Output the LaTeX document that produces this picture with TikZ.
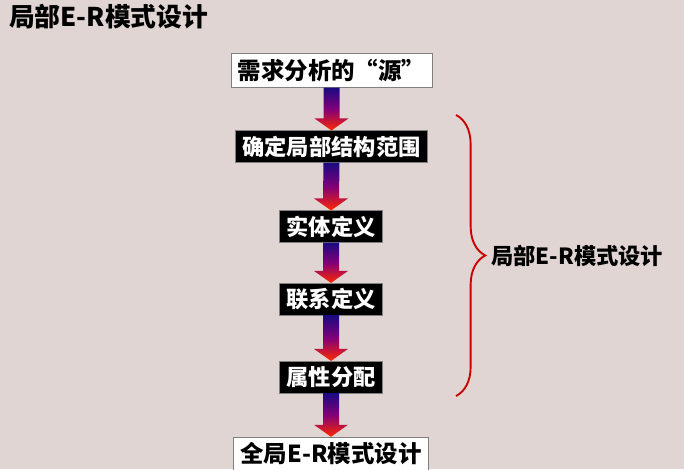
\documentclass[tikz,border=0pt]{standalone}
\usepackage{fontspec}
\newfontfamily\cjk{Noto Sans CJK SC}
\usetikzlibrary{calc,decorations.pathreplacing}

\definecolor{slidebg}{RGB}{224,213,211}
\definecolor{arrowtop}{RGB}{25,10,130}
\definecolor{arrowmid}{RGB}{130,0,120}
\definecolor{arrowbot}{RGB}{255,40,0}
\definecolor{bracered}{RGB}{200,0,0}

\tikzset{
  whitebox/.style={fill=white, draw=gray, text=black, inner xsep=6pt,
                   minimum height=29pt, font=\cjk\bfseries\fontsize{20}{22}\selectfont},
  blackbox/.style={fill=black, draw=gray, text=white, inner xsep=6pt,
                   minimum height=27pt, font=\cjk\bfseries\fontsize{19}{21}\selectfont},
  arrowfill/.style={top color=arrowtop, bottom color=arrowbot, middle color=arrowmid}
}

\begin{document}
\begin{tikzpicture}[x=0.03cm, y=-0.03cm]
  \fill[slidebg] (0,0) rectangle (684,469);
  \useasboundingbox (0,0) rectangle (684,469);

  \node[anchor=west, font=\cjk\bfseries\fontsize{22}{24}\selectfont] (title) at (5,17) {局部E-R模式设计};

  \node[whitebox] (yuan)    at (331.5,70.5) {需求分析的“源”};
  \node[blackbox] (fanwei)  at (331.5,146.5) {确定局部结构范围};
  \node[blackbox] (shiti)   at (331,226.5) {实体定义};
  \node[blackbox] (lianxi)  at (331,299) {联系定义};
  \node[blackbox] (shuxing) at (331,377) {属性分配};
  \node[whitebox] (quanju)  at (331,454) {全局E-R模式设计};

  \foreach \a/\b in {yuan/fanwei, fanwei/shiti, shiti/lianxi, lianxi/shuxing, shuxing/quanju}
    \shade[arrowfill] ($(\a.south)+(-8,0)$) -- ($(\b.north)+(-8,-12)$)
      -- ($(\b.north)+(-17,-12)$) -- (\b.north) -- ($(\b.north)+(17,-12)$)
      -- ($(\b.north)+(8,-12)$) -- ($(\a.south)+(8,0)$) -- cycle;

  \coordinate (bracetop) at (456,115);
  \coordinate (bracebot) at (456,396);
  \draw[bracered, line width=1.6pt, decorate,
        decoration={brace, amplitude=25pt}] (bracetop) -- (bracebot)
    node[midway, right=26pt, text=black, font=\cjk\bfseries\fontsize{19}{21}\selectfont] (jubu) {局部E-R模式设计};
\end{tikzpicture}
\end{document}
